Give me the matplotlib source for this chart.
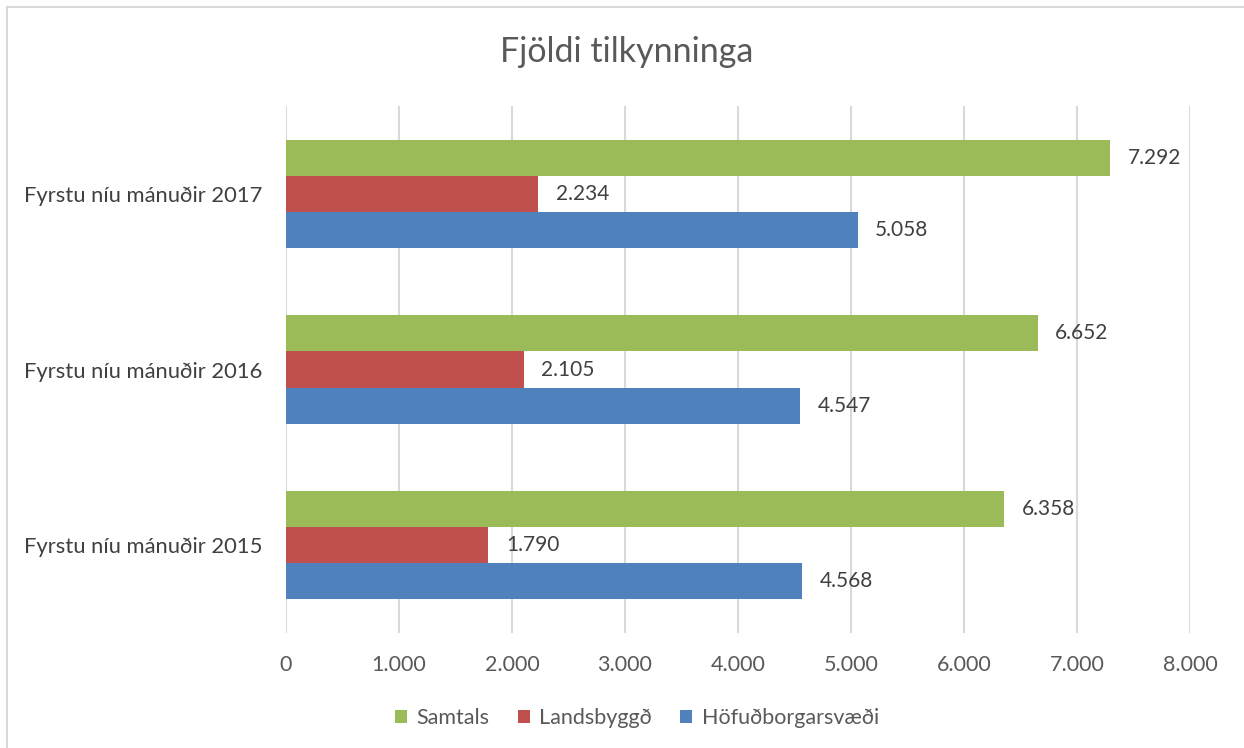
import matplotlib
matplotlib.use("Agg")
import matplotlib.pyplot as plt
from matplotlib.patches import Rectangle
import numpy as np

categories = ["Fyrstu níu mánuðir 2015", "Fyrstu níu mánuðir 2016", "Fyrstu níu mánuðir 2017"]
hofud = [4568, 4547, 5058]
lands = [1790, 2105, 2234]
samtals = [6358, 6652, 7292]
series_names = ["Samtals", "Landsbyggð", "Höfuðborgarsvæði"]
colors = {"Samtals": "#9BBB59", "Landsbyggð": "#C0504D", "Höfuðborgarsvæði": "#4F81BD"}
xticks = [0, 1000, 2000, 3000, 4000, 5000, 6000, 7000, 8000]

def fmt(v):
    return f"{v:,}".replace(",", ".")

plt.rcParams['font.family'] = ['Lato', 'DejaVu Sans']
txt = "#595959"

W, H = 1244, 748
fig = plt.figure(figsize=(W/100, H/100), dpi=100)
fig.patches.append(Rectangle((7/W, -0.01), 1.2, 1 - 7/H + 0.01, transform=fig.transFigure,
                             fill=False, edgecolor="#D9D9D9", linewidth=1.5))

ax = fig.add_axes([286/W, 1 - 633/H, (1190-286)/W, (633-106)/H])
y = np.arange(len(categories))
bh = 0.205
ax.barh(y - bh, hofud, height=bh, color=colors["Höfuðborgarsvæði"], label="Höfuðborgarsvæði", zorder=3)
ax.barh(y, lands, height=bh, color=colors["Landsbyggð"], label="Landsbyggð", zorder=3)
ax.barh(y + bh, samtals, height=bh, color=colors["Samtals"], label="Samtals", zorder=3)

for vals, off in [(hofud, -bh), (lands, 0), (samtals, bh)]:
    for i, v in enumerate(vals):
        ax.text(v + 155, i + off, fmt(v), va="center", ha="left", fontsize=15, color="#404040")

ax.set_xlim(0, 8000)
ax.set_ylim(-0.5, 2.5)
ax.set_xticks(xticks)
ax.set_xticklabels([fmt(v) for v in xticks], fontsize=15.5, color=txt)
ax.set_yticks(y)
ax.set_yticklabels(categories, fontsize=15.8, color="#404040")
ax.tick_params(axis="both", length=0)
ax.tick_params(axis="x", pad=16)
ax.tick_params(axis="y", pad=17)
ax.grid(axis="x", color="#D9D9D9", linewidth=1.5, zorder=0)
for s in ax.spines.values():
    s.set_visible(False)

fig.text(627/W, 1 - 52/H, "Fjöldi tilkynninga", ha="center", va="center", fontsize=24.5, color=txt)

handles, labels = ax.get_legend_handles_labels()
order = [labels.index(n) for n in series_names]
leg = fig.legend([handles[i] for i in order], [labels[i] for i in order], loc="center",
                 bbox_to_anchor=(637/W, 1 - 718/H), ncol=3, frameon=False, fontsize=15.5,
                 handlelength=0.55, handleheight=0.55, handletextpad=0.45, columnspacing=1.3)
for t in leg.get_texts():
    t.set_color(txt)

fig.savefig("out.png", dpi=100)
